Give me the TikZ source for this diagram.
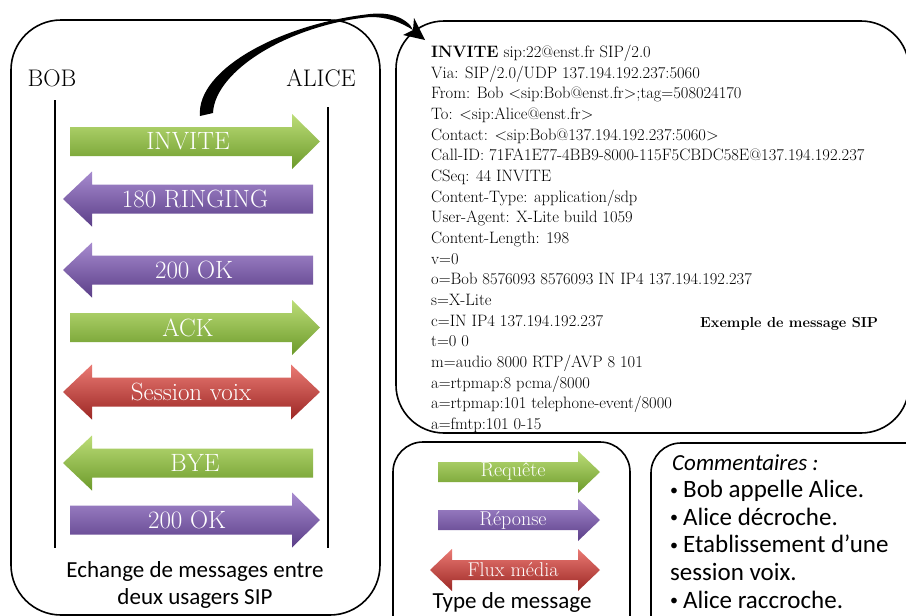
\documentclass[tikz,border=0pt]{standalone}
\usepackage{fontspec}
\newfontfamily\calib{Carlito}
\usetikzlibrary{calc}

% bevelled message arrows
\definecolor{gtop}{HTML}{BCDD78}\definecolor{gmid}{HTML}{92C047}\definecolor{gbot}{HTML}{6C9A2A}
\definecolor{ptop}{HTML}{A78BCF}\definecolor{pmid}{HTML}{7E5EAC}\definecolor{pbot}{HTML}{5B3E88}
\definecolor{rtop}{HTML}{EA7A74}\definecolor{rmid}{HTML}{CC403C}\definecolor{rbot}{HTML}{9C2724}

\tikzset{
  frame/.style={draw=black, line width=1.6pt},
  lifeline/.style={draw=black, line width=1.8pt},
  gfill/.style={top color=gtop, middle color=gmid, bottom color=gbot},
  pfill/.style={top color=ptop, middle color=pmid, bottom color=pbot},
  rfill/.style={top color=rtop, middle color=rmid, bottom color=rbot},
  msg/.style={text=white, font=\fontsize{25}{27}\selectfont, inner sep=0pt},
  legend/.style={text=white, font=\fontsize{20}{22}\selectfont, inner sep=0pt},
  actor/.style={font=\fontsize{24}{26}\selectfont, inner sep=0pt},
  caption/.style={font=\calib\fontsize{23}{27}\selectfont, inner sep=0pt},
  sipline/.style={font=\fontsize{16.5}{18}\selectfont, anchor=base west, inner sep=0pt},
  comment/.style={font=\calib\fontsize{25}{28}\selectfont, anchor=base west, inner sep=0pt},
}

% small bullet of the comment list
\newcommand\smallbul{{\fontsize{16}{16}\selectfont\raisebox{2.5pt}{•}}\hspace{5pt}}

% #1 x-start, #2 x-tip, #3 y, #4 half body, #5 half head, #6 head length, #7 fill style
\newcommand\arrR[7]{%
  \path[#7] (#1,{#3-#4}) -- ({#2-#6},{#3-#4}) -- ({#2-#6},{#3-#5}) -- (#2,#3)
    -- ({#2-#6},{#3+#5}) -- ({#2-#6},{#3+#4}) -- (#1,{#3+#4}) -- cycle;}
\newcommand\arrL[7]{%
  \path[#7] (#2,{#3-#4}) -- ({#1+#6},{#3-#4}) -- ({#1+#6},{#3-#5}) -- (#1,#3)
    -- ({#1+#6},{#3+#5}) -- ({#1+#6},{#3+#4}) -- (#2,{#3+#4}) -- cycle;}
\newcommand\arrLR[7]{%
  \path[#7] (#1,#3) -- ({#1+#6},{#3-#5}) -- ({#1+#6},{#3-#4}) -- ({#2-#6},{#3-#4})
    -- ({#2-#6},{#3-#5}) -- (#2,#3) -- ({#2-#6},{#3+#5}) -- ({#2-#6},{#3+#4})
    -- ({#1+#6},{#3+#4}) -- ({#1+#6},{#3+#5}) -- cycle;}

\begin{document}
\begin{tikzpicture}[x=1pt, y=-1pt]
\clip (0,0) rectangle (906,616);
\fill[white] (0,0) rectangle (906,616);

% ---------- frames ----------
\draw[frame, rounded corners=50pt] (11,20) rectangle (380,615);
\draw[frame, rounded corners=48pt] (396,21) rectangle (909,433);
\draw[frame, rounded corners=30pt] (393,442) rectangle (630,650);
\draw[frame, rounded corners=30pt] (651,443) rectangle (940,650);

% ---------- actors and lifelines ----------
\node[actor] (bob) at (52,78) {BOB};
\node[actor] (alice) at (321,78) {ALICE};
\coordinate (bobtop) at (55,100);  \coordinate (bobend) at (55,548);
\coordinate (alitop) at (328,107); \coordinate (aliend) at (328,548);
\draw[lifeline] (bobtop) -- (bobend);
\draw[lifeline] (alitop) -- (aliend);

% ---------- message arrows ----------
\arrR{70}{320}{141.5}{14.5}{27.5}{28}{gfill}
\node[msg] (invite) at (188,141.5) {INVITE};
\arrL{63}{313}{199}{14.5}{27.5}{29}{pfill}
\node[msg] (ringing) at (195,199) {180 RINGING};
\arrL{63}{313}{270}{14.5}{27.5}{29}{pfill}
\node[msg] (ok1) at (194,270) {200 OK};
\arrR{70}{320}{327.5}{14.5}{27.5}{28}{gfill}
\node[msg] (ack) at (188,327.5) {ACK};
\arrLR{63}{320}{392}{14.5}{27.5}{29}{rfill}
\node[msg] (voix) at (191,392) {Session voix};
\arrL{63}{313}{463}{14.5}{27.5}{29}{gfill}
\node[msg] (bye) at (195,463) {BYE};
\arrR{70}{320}{520}{14.5}{27.5}{28}{pfill}
\node[msg] (ok2) at (187,520) {200 OK};

\node[caption, align=center] (exch) at (195,585)
  {Echange de messages entre\\deux usagers SIP};

% ---------- curved pointer from INVITE to the message ----------
\fill[black] (200,116) .. controls (196,70) and (280,24) .. (370,14)
  .. controls (390,12) and (402,17) .. (410,25)
  -- (413,30) .. controls (400,22) and (388,17) .. (370,17)
  .. controls (290,25) and (215,70) .. (213,113) -- cycle;
\fill[black] (425,40) -- (403,35) -- (413,30) -- (414,18) -- cycle;

% ---------- SIP INVITE message ----------
\foreach \t [count=\i] in {
  {\textbf{INVITE} sip:22@enst.fr SIP/2.0},
  {Via: SIP/2.0/UDP 137.194.192.237:5060},
  {From: Bob <sip:Bob@enst.fr>;tag=508024170},
  {To: <sip:Alice@enst.fr>},
  {Contact: <sip:Bob@137.194.192.237:5060>},
  {Call-ID: 71FA1E77-4BB9-8000-115F5CBDC58E@137.194.192.237},
  {CSeq: 44 INVITE},
  {Content-Type: application/sdp},
  {User-Agent: X-Lite build 1059},
  {Content-Length: 198},
  {v=0},
  {o=Bob 8576093 8576093 IN IP4 137.194.192.237},
  {s=X-Lite},
  {c=IN IP4 137.194.192.237},
  {t=0 0},
  {m=audio 8000 RTP/AVP 8 101},
  {a=rtpmap:8 pcma/8000},
  {a=rtpmap:101 telephone-event/8000},
  {a=fmtp:101 0-15}}
  {\node[sipline] (sip\i) at (431,{57.5+(\i-1)*20.67}) {\t};}
\node[sipline, font=\bfseries\fontsize{14.5}{16}\selectfont] (sipcap) at (700,327.5) {Exemple de message SIP};

% ---------- legend ----------
\arrR{438}{600}{472}{10}{21}{22}{gfill}
\node[legend] (req) at (513,472) {Requête};
\arrR{438}{600}{520}{10}{21}{22}{pfill}
\node[legend] (rep) at (513,520) {Réponse};
\arrLR{430}{600}{570}{10}{21}{22}{rfill}
\node[legend] (flux) at (513,570) {Flux média};
\node[caption] (typ) at (512,602) {Type de message};

% ---------- comments ----------
\node[comment, font=\calib\itshape\fontsize{23}{26}\selectfont] (c0) at (672,470) {Commentaires :};
\node[comment] (c1) at (670,497.6) {\smallbul Bob appelle Alice.};
\node[comment] (c2) at (670,525.2) {\smallbul Alice décroche.};
\node[comment] (c3) at (670,552.8) {\smallbul Etablissement d’une};
\node[comment] (c4) at (670,580.4) {session voix.};
\node[comment] (c5) at (670,608) {\smallbul Alice raccroche.};
\end{tikzpicture}
\end{document}
